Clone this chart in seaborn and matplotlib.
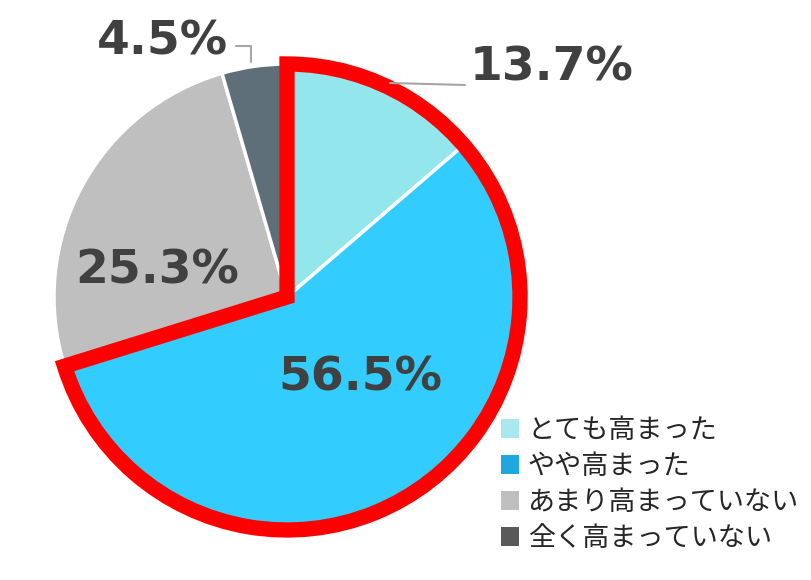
import matplotlib
matplotlib.use("Agg")
from matplotlib import pyplot as plt
from matplotlib.patches import Wedge, Patch
import seaborn as sns

labels = ['とても高まった', 'やや高まった', 'あまり高まっていない', '全く高まっていない']
values = [13.7, 56.5, 25.3, 4.5]
pie_colors = ['#93E6EC', '#33CCFF', '#BFBFBF', '#5F6F7A']
legend_colors = ['#A9E8EF', '#1FA8E0', '#BFBFBF', '#595959']

sns.set_theme(style="white")
plt.rcParams['font.family'] = ['DejaVu Sans', 'Noto Sans CJK JP']

W, H = 811, 580
fig = plt.figure(figsize=(W / 100, H / 100), dpi=100)
ax = fig.add_axes([0, 0, 1, 1])

cx, cy, r = 287, H - 297, 233
wedges, _ = ax.pie(values, colors=pie_colors, startangle=90, counterclock=False,
                   center=(cx, cy), radius=r,
                   wedgeprops=dict(edgecolor='white', linewidth=2.5))

# red outline around the two "高まった" answers
share = (values[0] + values[1]) / sum(values)
ax.add_patch(Wedge((cx, cy), r, 90 - share * 360, 90, fill=False,
                   edgecolor='#FF0000', linewidth=11, joinstyle='miter'))

ax.set_xlim(0, W)
ax.set_ylim(0, H)
ax.set_aspect('equal')
ax.axis('off')

lab_kw = dict(fontsize=34, fontweight='bold', color='#404040', va='center')
ax.text(470, H - 68, '13.7%', ha='left', **lab_kw)
ax.text(360, H - 378, '56.5%', ha='center', **lab_kw)
ax.text(157, H - 271, '25.3%', ha='center', **lab_kw)
ax.text(228, H - 42, '4.5%', ha='right', **lab_kw)

# leader lines
ax.plot([390, 465], [H - 83, H - 85], color='#A6A6A6', lw=1.5)
ax.plot([236, 251, 251], [H - 46, H - 46, H - 62], color='#A6A6A6', lw=1.5)

handles = [Patch(facecolor=c, edgecolor='none') for c in legend_colors]
fig.legend(handles, labels, loc='upper left',
           bbox_to_anchor=(501 / W, 1 - 417 / H), frameon=False,
           prop={'family': ['Noto Sans CJK JP'], 'size': 19.5},
           handlelength=0.68, handleheight=0.68, handletextpad=0.3,
           labelspacing=0.33, borderpad=0, borderaxespad=0)

fig.savefig('out.png', dpi=100)
